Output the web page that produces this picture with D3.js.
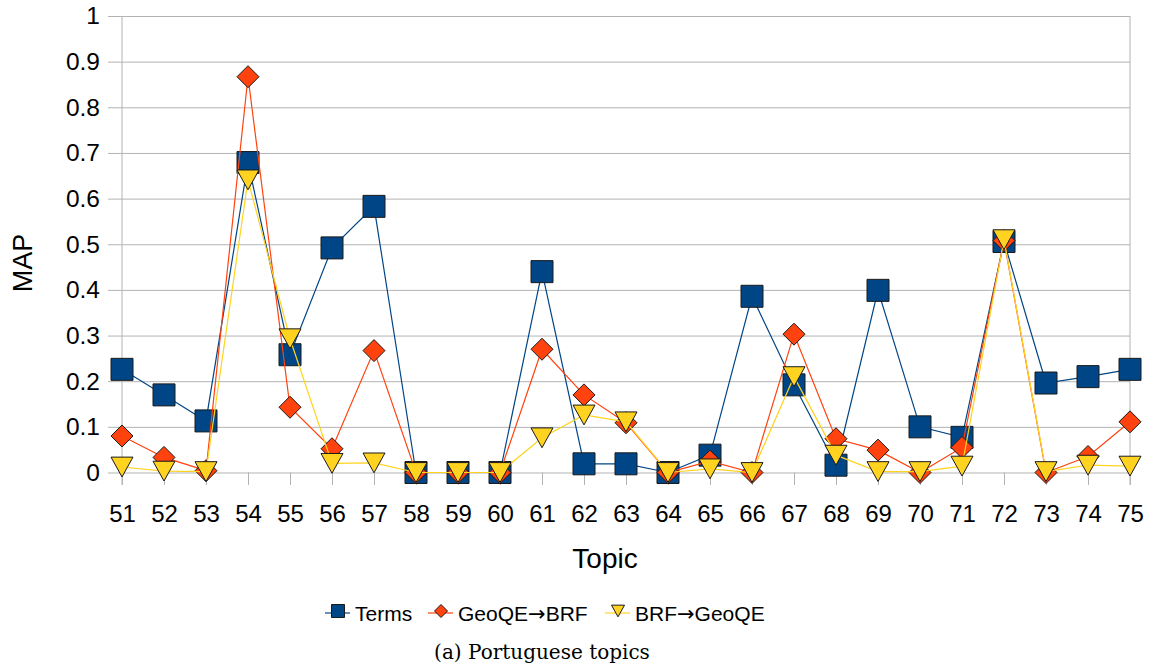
<!DOCTYPE html>
<html>
<head>
<meta charset="utf-8">
<script src="https://d3js.org/d3.v7.min.js"></script>
<style>
  body { margin: 0; background: #fff; }
  text { font-family: "Liberation Sans", Arial, sans-serif; fill: #000; }
  .caption { font-family: "DejaVu Serif", "Liberation Serif", serif; }
  .arrow { font-family: "DejaVu Sans", sans-serif; }
</style>
</head>
<body>
<svg id="chart" width="1153" height="670"></svg>
<script>
// topics on the x axis
const topics = d3.range(51, 76);
const yTicks = [0, 0.1, 0.2, 0.3, 0.4, 0.5, 0.6, 0.7, 0.8, 0.9, 1];

// MAP per topic
const terms = [0.226, 0.170, 0.113, 0.679, 0.258, 0.492, 0.583, 0, 0, 0,
  0.440, 0.019, 0.019, 0, 0.038, 0.386, 0.192, 0.016, 0.399, 0.100,
  0.077, 0.506, 0.196, 0.210, 0.226];
const geoToBrf = [0.080, 0.033, 0.004, 0.867, 0.143, 0.052, 0.267, 0, 0, 0,
  0.270, 0.170, 0.109, 0, 0.025, 0, 0.303, 0.074, 0.049, 0,
  0.055, 0.508, 0, 0.035, 0.111];
const brfToGeo = [0.012, 0.003, 0.002, 0.641, 0.293, 0.020, 0.021, 0, 0, 0,
  0.076, 0.126, 0.111, 0, 0.008, 0, 0.210, 0.038, 0.002, 0.002,
  0.014, 0.510, 0.002, 0.016, 0.014];

const seriesNames = ["Terms", "GeoQE\u2192BRF", "BRF\u2192GeoQE"];
const seriesColors = ["#004586", "#ff420e", "#ffd320"];
const seriesShapes = ["square", "diamond", "triangle"];
const seriesValues = [terms, geoToBrf, brfToGeo];

const svg = d3.select("#chart");
const plotL = 122, plotR = 1130, plotT = 16, plotB = 472.5;

const x = d3.scalePoint().domain(topics).range([plotL, plotR]);
const y = d3.scaleLinear().domain([0, 1]).range([plotB, plotT]);

// horizontal grid + y labels
const yAxis = svg.append("g")
  .attr("transform", `translate(${plotR},0)`)
  .call(d3.axisLeft(y).tickValues(yTicks).tickSize(plotR - 108).tickPadding(8)
    .tickFormat(d => d === 0 ? "0" : d3.format("~g")(d)));
yAxis.select(".domain").remove();
yAxis.selectAll("line").attr("stroke", "#b3b3b3");
yAxis.selectAll("text").style("font-size", "24.5px");

// x ticks + labels
const xAxis = svg.append("g")
  .attr("transform", `translate(0,${plotB})`)
  .call(d3.axisBottom(x).tickSize(12.5).tickPadding(20));
xAxis.select(".domain").remove();
xAxis.selectAll("line").attr("stroke", "#b3b3b3");
xAxis.selectAll("text").style("font-size", "24px");

// plot side borders
svg.append("g").selectAll("line")
  .data([topics[0], topics[topics.length - 1]])
  .join("line")
  .attr("x1", d => x(d)).attr("x2", d => x(d))
  .attr("y1", plotT).attr("y2", plotB + 12.5)
  .attr("stroke", "#b3b3b3");

function shapePath(shape, s) {
  if (shape === "square") return `M${-s},${-s}H${s}V${s}H${-s}Z`;
  if (shape === "diamond") return `M0,${-s}L${s},0L0,${s}L${-s},0Z`;
  return `M${-s},${-s * 0.9}H${s}L0,${s * 0.9}Z`;
}
const markerHalf = [11, 11, 11];

seriesValues.forEach((vals, i) => {
  const pts = topics.map((t, j) => [t, vals[j]]);
  svg.append("path")
    .datum(pts)
    .attr("fill", "none")
    .attr("stroke", seriesColors[i])
    .attr("stroke-width", 1.2)
    .attr("d", d3.line().x(d => x(d[0])).y(d => y(d[1])));
  svg.append("g").selectAll("path")
    .data(pts)
    .join("path")
    .attr("transform", d => `translate(${x(d[0])},${y(d[1])})`)
    .attr("d", shapePath(seriesShapes[i], markerHalf[i]))
    .attr("fill", seriesColors[i])
    .attr("stroke", "#1a1a1a")
    .attr("stroke-width", 1);
});

// axis titles
svg.append("text")
  .attr("x", 605).attr("y", 568)
  .attr("text-anchor", "middle")
  .style("font-size", "28px")
  .text("Topic");
svg.append("text")
  .attr("transform", "translate(32,263) rotate(-90)")
  .attr("text-anchor", "middle")
  .style("font-size", "27px")
  .text("MAP");

// legend
const legendX = [325, 428, 605];
const legend = svg.append("g").selectAll("g")
  .data(seriesNames)
  .join("g")
  .attr("transform", (d, i) => `translate(${legendX[i]},613)`);
legend.append("line")
  .attr("x1", 0).attr("x2", 25)
  .attr("stroke", (d, i) => seriesColors[i]).attr("stroke-width", 1.2);
legend.append("path")
  .attr("transform", "translate(13,-2)")
  .attr("d", (d, i) => shapePath(seriesShapes[i], 6.5))
  .attr("fill", (d, i) => seriesColors[i])
  .attr("stroke", "#1a1a1a");
legend.append("text")
  .attr("x", 30).attr("y", 8)
  .style("font-size", "21px")
  .each(function(d) {
    const parts = d.split("\u2192");
    const t = d3.select(this);
    t.append("tspan").text(parts[0]);
    if (parts.length > 1) {
      t.append("tspan").attr("class", "arrow").text("\u2192");
      t.append("tspan").text(parts[1]);
    }
  });

// caption
svg.append("text")
  .attr("class", "caption")
  .attr("x", 542).attr("y", 659)
  .attr("text-anchor", "middle")
  .style("font-size", "20px")
  .text("(a) Portuguese topics");
</script>
</body>
</html>
